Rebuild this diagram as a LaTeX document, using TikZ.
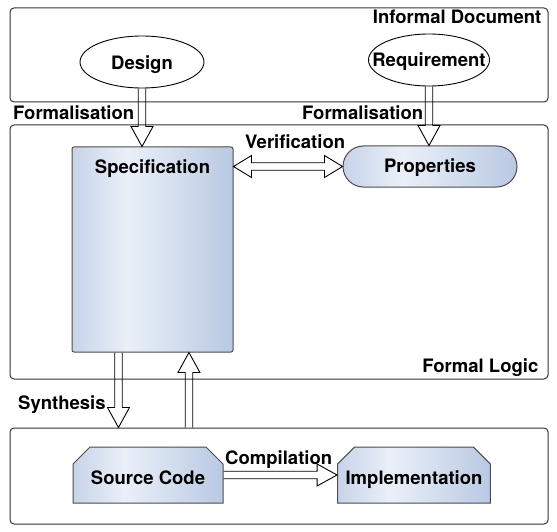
\documentclass[tikz,border=0pt]{standalone}
\usepackage{fontspec}
\setmainfont{TeX Gyre Heros}
\usetikzlibrary{positioning}
\usetikzlibrary{calc}
\usetikzlibrary{shapes.geometric}
\usetikzlibrary{shapes.misc}

\definecolor{panelL}{HTML}{C7D3E9}
\definecolor{panelM}{HTML}{EAF0F8}
\definecolor{panelR}{HTML}{B9C9E3}
\pgfdeclarehorizontalshading{panel}{100bp}{color(0bp)=(panelL); color(25bp)=(panelL); color(42bp)=(panelM); color(75bp)=(panelR); color(100bp)=(panelR)}

\begin{document}
\begin{tikzpicture}[
    x=1pt, y=-1pt,
    font=\fontsize{18.5}{22}\selectfont\bfseries,
    area/.style={draw=black!80, line width=1pt, rounded corners=4pt, minimum width=538pt, inner sep=0pt},
    doc/.style={draw, ellipse, fill=white, line width=0.9pt, inner sep=0pt},
    block/.style={draw=black!70, line width=1pt, shade, shading=panel, inner sep=0pt},
    cut/.style={block, chamfered rectangle, chamfered rectangle corners={north west,north east},
        chamfered rectangle xsep=8pt, chamfered rectangle ysep=9pt,
        minimum height=56pt, text height=18.6pt, text depth=0pt},
    tag/.style={inner sep=0pt},
    hollow/.style={line width=0.9pt, to path={
        let \p1=(\tikztostart), \p2=(\tikztotarget), \p3=($(\p2)!20pt!(\p1)$) in
        ($(\p1)!3.75pt!90:(\p2)$) -- ($(\p3)!3.75pt!90:(\p2)$) -- ($(\p3)!11pt!90:(\p2)$) -- (\p2)
        -- ($(\p3)!11pt!-90:(\p2)$) -- ($(\p3)!3.75pt!-90:(\p2)$) -- ($(\p1)!3.75pt!-90:(\p2)$)}},
    hollowboth/.style={line width=0.9pt, to path={
        let \p1=(\tikztostart), \p2=(\tikztotarget), \p3=($(\p2)!18pt!(\p1)$), \p4=($(\p1)!18pt!(\p2)$) in
        (\p1) -- ($(\p4)!11pt!90:(\p2)$) -- ($(\p4)!3.75pt!90:(\p2)$) -- ($(\p3)!3.75pt!90:(\p2)$)
        -- ($(\p3)!11pt!90:(\p2)$) -- (\p2) -- ($(\p3)!11pt!-90:(\p2)$) -- ($(\p3)!3.75pt!-90:(\p2)$)
        -- ($(\p4)!3.75pt!-90:(\p2)$) -- ($(\p4)!11pt!-90:(\p2)$) -- cycle}}
]
    \useasboundingbox (0,0) rectangle (557,532);

    % Layers
    \node[area, minimum height=94pt] (informal) at (279,55) {};
    \node[area, minimum height=254pt] (formal) at (279,252) {};
    \node[area, minimum height=96pt] (program) at (279,476) {};
    \node[tag, anchor=base east] (informaltag) at ($(informal.north east)+(-7,16)$) {Informal Document};
    \node[tag, anchor=base east] (formaltag) at ($(formal.south east)+(-10,-7)$) {Formal Logic};

    % Informal documents
    \node[doc, minimum width=124pt, minimum height=52pt,
          label={[inner sep=0pt, text height=15pt, text depth=0pt]center:Design}] (design) at (142,62) {};
    \node[doc, minimum width=121pt, minimum height=52pt,
          label={[inner sep=0pt, text height=14pt, text depth=0pt]center:Requirement}] (requirement) at (429,60) {};

    % Formal models
    \node[block, rounded corners=2pt, minimum width=161pt, minimum height=205pt,
          label={[anchor=base, yshift=-27pt, inner sep=0pt]north:Specification}] (spec) at (152.5,249.5) {};
    \node[block, rounded rectangle, minimum width=174pt, minimum height=41pt,
          text height=12.4pt, text depth=0pt] (props) at (430,166.5) {Properties};

    % Program
    \node[cut, minimum width=150pt] (code) at (148,475) {Source Code};
    \node[cut, minimum width=149pt] (impl) at (414,475) {Implementation};

    % Connections
    \coordinate (synth) at ($(spec.south west)!0.29!(spec.south east)$);
    \coordinate (feedback) at ($(spec.south west)!0.725!(spec.south east)$);
    \draw[hollow] (design.south) to (design.south |- spec.north);
    \draw[hollow] (requirement.south) to (requirement.south |- props.north);
    \draw[hollowboth] (spec.east |- props.west) to (props.west);
    \draw[hollow] (synth) to (synth |- program.north);
    \draw[hollow] (feedback |- program.north) to (feedback);
    \draw[hollow] (code.east) to (impl.west);

    % Connection labels
    \node[tag, anchor=base west] (formalleft) at (13,120) {Formalisation};
    \node[tag, anchor=base west] (formalright) at (302,120) {Formalisation};
    \node[tag, anchor=base west] (verify) at (245,149) {Verification};
    \node[tag, anchor=base west] (synthtag) at (18,409) {Synthesis};
    \node[tag, anchor=base west] (compile) at (225,464) {Compilation};
\end{tikzpicture}
\end{document}
